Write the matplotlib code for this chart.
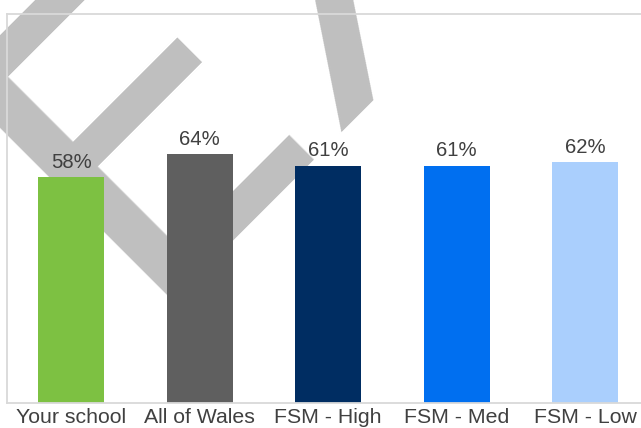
import matplotlib
matplotlib.use("Agg")
import matplotlib.pyplot as plt

categories = ["Your school", "All of Wales", "FSM - High", "FSM - Med", "FSM - Low"]
values = [58, 64, 61, 61, 62]
labels = ["58%", "64%", "61%", "61%", "62%"]
colors = ["#7dc142", "#5f5f5f", "#002d62", "#006ff0", "#aacffd"]

plt.rcParams['font.family'] = ['Liberation Sans', 'DejaVu Sans']

fig = plt.figure(figsize=(6.41, 4.28), dpi=100)
ax = fig.add_axes([7/641, 25.5/428, 642.5/641, 388.5/428])
ax.patch.set_alpha(0)

x = list(range(len(categories)))
ax.bar(x, values, width=0.51, color=colors, zorder=1)
ax.set_xlim(-0.5, 4.5)
ax.set_ylim(0, 100)

for xi, v, lab in zip(x, values, labels):
    ax.annotate(lab, (xi, v), xytext=(0, 6.5), textcoords='offset points',
                ha='center', va='baseline', fontsize=14.6, color='#404040', zorder=3)

ax.set_xticks(x)
ax.set_xticklabels(categories, fontsize=15.3, color='#404040')
ax.tick_params(axis='x', length=0, pad=4)
ax.set_yticks([])
for s in ax.spines.values():
    s.set_color('#d9d9d9')
    s.set_linewidth(1.3)

# watermark
ax.text(130.5/641, (428 - 300.5)/428, "EXAMPLE", transform=fig.transFigure, rotation=45,
        rotation_mode='anchor', ha='left', va='baseline', fontsize=306,
        family='DejaVu Sans', color='#bfbfbf', zorder=0.5, clip_on=False)

fig.savefig("out.png", dpi=100)
